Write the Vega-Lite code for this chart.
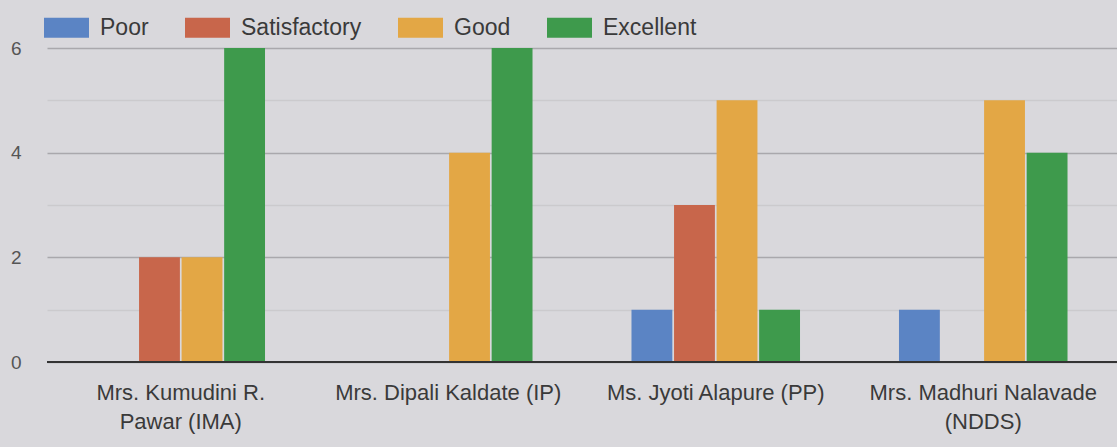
{
  "$schema": "https://vega.github.io/schema/vega-lite/v6.json",
  "autosize": {"type": "none"},
  "width": 1070,
  "height": 314,
  "padding": {"left": 47, "top": 48, "right": 0, "bottom": 85},
  "background": "#d9d8dc",
  "config": {
    "view": {"stroke": null},
    "font": "Liberation Sans"
  },
  "data": {
    "values": [
      {"teacher": "Mrs. Kumudini R. Pawar (IMA)", "rating": "Poor", "count": 0},
      {"teacher": "Mrs. Kumudini R. Pawar (IMA)", "rating": "Satisfactory", "count": 2},
      {"teacher": "Mrs. Kumudini R. Pawar (IMA)", "rating": "Good", "count": 2},
      {"teacher": "Mrs. Kumudini R. Pawar (IMA)", "rating": "Excellent", "count": 6},
      {"teacher": "Mrs. Dipali Kaldate (IP)", "rating": "Poor", "count": 0},
      {"teacher": "Mrs. Dipali Kaldate (IP)", "rating": "Satisfactory", "count": 0},
      {"teacher": "Mrs. Dipali Kaldate (IP)", "rating": "Good", "count": 4},
      {"teacher": "Mrs. Dipali Kaldate (IP)", "rating": "Excellent", "count": 6},
      {"teacher": "Ms. Jyoti Alapure (PP)", "rating": "Poor", "count": 1},
      {"teacher": "Ms. Jyoti Alapure (PP)", "rating": "Satisfactory", "count": 3},
      {"teacher": "Ms. Jyoti Alapure (PP)", "rating": "Good", "count": 5},
      {"teacher": "Ms. Jyoti Alapure (PP)", "rating": "Excellent", "count": 1},
      {"teacher": "Mrs. Madhuri Nalavade (NDDS)", "rating": "Poor", "count": 1},
      {"teacher": "Mrs. Madhuri Nalavade (NDDS)", "rating": "Satisfactory", "count": 0},
      {"teacher": "Mrs. Madhuri Nalavade (NDDS)", "rating": "Good", "count": 5},
      {"teacher": "Mrs. Madhuri Nalavade (NDDS)", "rating": "Excellent", "count": 4}
    ]
  },
  "layer": [
    {
      "mark": {"type": "bar", "strokeWidth": 0},
      "encoding": {
        "x": {
          "field": "teacher",
          "type": "nominal",
          "sort": null,
          "scale": {"paddingInner": 0.37, "paddingOuter": 0.185},
          "axis": {
            "title": null,
            "domain": false,
            "ticks": false,
            "labelAngle": 0,
            "labelFontSize": 22,
            "labelColor": "#3a3a3a",
            "labelPadding": 20,
            "labelLineHeight": 29,
            "labelLimit": 400,
            "labelExpr": "datum.label == 'Mrs. Kumudini R. Pawar (IMA)' ? ['Mrs. Kumudini R.', 'Pawar (IMA)'] : datum.label == 'Mrs. Madhuri Nalavade (NDDS)' ? ['Mrs. Madhuri Nalavade', '(NDDS)'] : datum.label"
          }
        },
        "xOffset": {
          "field": "rating",
          "type": "nominal",
          "sort": ["Poor", "Satisfactory", "Good", "Excellent"],
          "scale": {"paddingInner": 0.04}
        },
        "y": {
          "field": "count",
          "type": "quantitative",
          "scale": {"domain": [0, 6], "nice": false},
          "axis": {
            "title": null,
            "values": [0, 1, 2, 3, 4, 5, 6],
            "domain": false,
            "ticks": false,
            "labelFontSize": 19,
            "labelColor": "#555555",
            "labelPadding": 26,
            "labelExpr": "datum.value % 2 === 0 ? datum.label : ''",
            "gridColor": {"condition": {"test": "datum.value % 2 === 1", "value": "#cbcacd"}, "value": "#a9a8ac"},
            "gridWidth": 1.5
          }
        },
        "color": {
          "field": "rating",
          "type": "nominal",
          "sort": ["Poor", "Satisfactory", "Good", "Excellent"],
          "scale": {
            "domain": ["Poor", "Satisfactory", "Good", "Excellent"],
            "range": ["#5b84c4", "#c8664b", "#e3a745", "#3e9a4c"]
          },
          "legend": {
            "title": null,
            "orient": "none",
            "legendX": -3,
            "legendY": -43,
            "direction": "horizontal",
            "symbolType": "M-1,-0.44H1V0.44H-1Z",
            "symbolSize": 2025,
            "symbolStrokeWidth": 0,
            "symbolOpacity": 1,
            "labelFontSize": 23,
            "labelColor": "#3a3a3a",
            "labelOffset": 11,
            "columnPadding": 36,
            "labelLimit": 300
          }
        }
      }
    },
    {
      "mark": {"type": "rule", "color": "#333333", "strokeWidth": 2},
      "encoding": {"y": {"datum": 0}}
    }
  ]
}
